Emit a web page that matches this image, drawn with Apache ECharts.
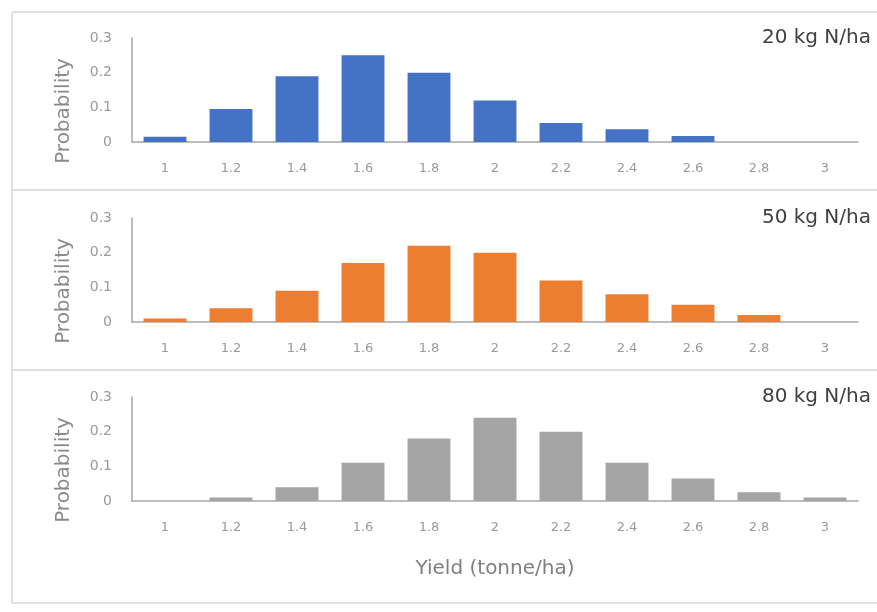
<!DOCTYPE html>
<html><head><meta charset="utf-8">
<script src="https://cdn.jsdelivr.net/npm/echarts@6/dist/echarts.min.js"></script>
<style>html,body{margin:0;padding:0;background:#fff}#c{width:877px;height:612px}</style>
</head><body><div id="c"></div>
<script>
const categories = ['1','1.2','1.4','1.6','1.8','2','2.2','2.4','2.6','2.8','3'];
const yTicks = [0, 0.1, 0.2, 0.3];
const n20 = [0.015, 0.095, 0.19, 0.25, 0.2, 0.12, 0.055, 0.037, 0.017, 0, 0];
const n50 = [0.01, 0.04, 0.09, 0.17, 0.22, 0.2, 0.12, 0.08, 0.05, 0.02, 0];
const n80 = [0, 0.01, 0.04, 0.11, 0.18, 0.24, 0.2, 0.11, 0.065, 0.025, 0.01];
const panelLabels = ['20 kg N/ha', '50 kg N/ha', '80 kg N/ha'];
const seriesData = [n20, n50, n80];
const colors = ['#4472C4', '#ED7D31', '#A5A5A5'];
const xName = 'Yield (tonne/ha)';
const yName = 'Probability';

const font = '"DejaVu Sans", "Open Sans", sans-serif';
const gridTops = [38, 218, 397];
const gridH = 104;
const grids = gridTops.map(t => ({left: 132, width: 726, top: t, height: gridH}));
const xAxes = grids.map((g, i) => ({
  type: 'category', gridIndex: i, data: categories,
  axisLine: {lineStyle: {color: '#a6a6a6', width: 1.5}},
  axisTick: {show: false},
  axisLabel: {color: '#9a9a9a', fontSize: 13, margin: 20, fontFamily: font},
  name: i === 2 ? xName : '', nameLocation: 'middle', nameGap: 58,
  nameTextStyle: {color: '#7f7f7f', fontSize: 20, fontFamily: font}
}));
const yAxes = grids.map((g, i) => ({
  type: 'value', gridIndex: i, min: yTicks[0], max: yTicks[yTicks.length-1], interval: 0.1,
  axisLine: {show: true, lineStyle: {color: '#a6a6a6', width: 1.5}},
  axisTick: {show: false}, splitLine: {show: false},
  axisLabel: {color: '#9a9a9a', fontSize: 14, margin: 20, fontFamily: font},
  name: yName, nameLocation: 'middle', nameGap: 58, nameRotate: 90,
  nameTextStyle: {color: '#8a8a8a', fontSize: 20, fontFamily: font, padding: [0, 42, 0, 0]}
}));
const series = seriesData.map((d, i) => ({
  type: 'bar', xAxisIndex: i, yAxisIndex: i, data: d,
  barCategoryGap: '35%', itemStyle: {color: colors[i]}
}));
const titles = panelLabels.map((t, i) => ({
  text: t, right: 1, top: gridTops[i] - 15,
  textStyle: {color: '#404040', fontSize: 20, fontWeight: 'normal', fontFamily: font}
}));
const lineStyle = {stroke: '#e0e0e0', lineWidth: 2};
const graphic = [
  {type: 'line', shape: {x1: 12, y1: 12, x2: 877, y2: 12}, style: lineStyle},
  {type: 'line', shape: {x1: 12, y1: 190, x2: 877, y2: 190}, style: lineStyle},
  {type: 'line', shape: {x1: 12, y1: 370, x2: 877, y2: 370}, style: lineStyle},
  {type: 'line', shape: {x1: 12, y1: 603, x2: 877, y2: 603}, style: lineStyle},
  {type: 'line', shape: {x1: 12, y1: 12, x2: 12, y2: 603}, style: lineStyle}
];
const chart = echarts.init(document.getElementById('c'));
chart.setOption({
  animation: false, backgroundColor: '#fff',
  title: titles, grid: grids, xAxis: xAxes, yAxis: yAxes, series, graphic
});
</script></body></html>
